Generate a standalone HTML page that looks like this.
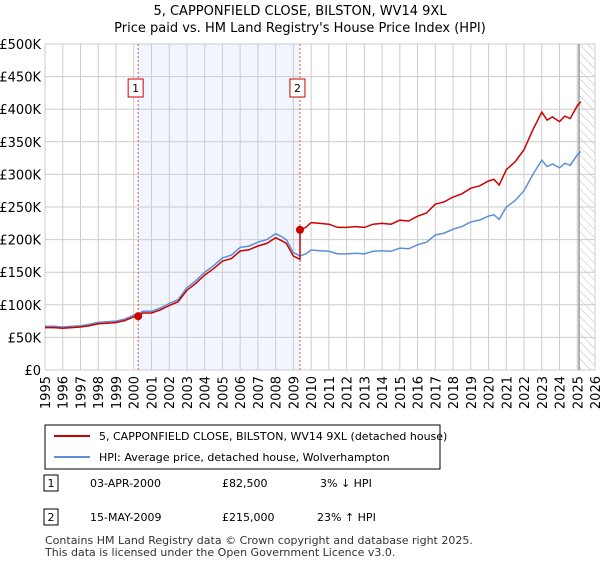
<!DOCTYPE html>
<html><head><meta charset="utf-8"><style>
body{margin:0;background:#fff;font-family:"DejaVu Sans","Liberation Sans",sans-serif;}
svg text{font-family:"DejaVu Sans","Liberation Sans",sans-serif;}
</style></head><body>
<svg id="c" width="600" height="560" viewBox="0 0 600 560" xmlns="http://www.w3.org/2000/svg">
<defs><pattern id="hatch" width="6" height="6" patternUnits="userSpaceOnUse" patternTransform="rotate(-45)"><line x1="0" y1="0" x2="0" y2="6" stroke="#bbb" stroke-width="1"/></pattern></defs>
<text x="300" y="15" text-anchor="middle" font-size="13" fill="#000">5, CAPPONFIELD CLOSE, BILSTON, WV14 9XL</text>
<text x="300" y="32" text-anchor="middle" font-size="13" fill="#000">Price paid vs. HM Land Registry's House Price Index (HPI)</text>
<g id="plot"></g>
<g>
<rect x="45" y="425" width="395" height="44" fill="#fff" stroke="#000" stroke-width="1"/>
<line x1="54" y1="436" x2="90" y2="436" stroke="#cc0000" stroke-width="2"/>
<text x="99" y="440" font-size="11">5, CAPPONFIELD CLOSE, BILSTON, WV14 9XL (detached house)</text>
<line x1="54" y1="457" x2="90" y2="457" stroke="#5b8fd6" stroke-width="2"/>
<text x="99" y="461" font-size="11">HPI: Average price, detached house, Wolverhampton</text>
</g>
<g font-size="11">
<rect x="44" y="475" width="14" height="16" fill="#fff" stroke="#000"/><text x="51" y="487" text-anchor="middle">1</text>
<text x="90" y="487">03-APR-2000</text><text x="222" y="487">£82,500</text><text x="320" y="487">3% ↓ HPI</text>
<rect x="44" y="509" width="14" height="16" fill="#fff" stroke="#000"/><text x="51" y="521" text-anchor="middle">2</text>
<text x="90" y="521">15-MAY-2009</text><text x="222" y="521">£215,000</text><text x="317" y="521">23% ↑ HPI</text>
</g>
<text x="45" y="544" font-size="11" fill="#333">Contains HM Land Registry data © Crown copyright and database right 2025.</text>
<text x="45" y="556" font-size="11" fill="#333">This data is licensed under the Open Government Licence v3.0.</text>
</svg>
<script>
const hpiYears=[1995,1995.5,1996,1996.5,1997,1997.5,1998,1998.5,1999,1999.5,2000,2000.25,2000.5,2001,2001.5,2002,2002.5,2003,2003.5,2004,2004.5,2005,2005.5,2006,2006.5,2007,2007.5,2008,2008.3,2008.6,2009,2009.37,2009.7,2010,2010.5,2011,2011.5,2012,2012.5,2013,2013.5,2014,2014.5,2015,2015.5,2016,2016.5,2017,2017.5,2018,2018.5,2019,2019.5,2020,2020.3,2020.6,2021,2021.5,2022,2022.5,2023,2023.3,2023.6,2024,2024.3,2024.6,2025,2025.2];
const hpiValues=[67,67,66,67,68,70,73,74,75,78,84,85,90,90,95,102,108,126,137,150,160,172,176,188,190,196,200,209,205,200,180,175,178,184,183,182,178,178,179,178,182,183,182,187,186,192,196,207,210,216,220,227,230,236,238,231,250,260,275,300,322,312,316,310,317,314,330,335];
const saleDates=[2000.25,2009.37];
const salePrices=[82.5,215];
const yTicks=[0,50,100,150,200,250,300,350,400,450,500];
const yTickLabels=["£0","£50K","£100K","£150K","£200K","£250K","£300K","£350K","£400K","£450K","£500K"];
const xTicks=[1995,1996,1997,1998,1999,2000,2001,2002,2003,2004,2005,2006,2007,2008,2009,2010,2011,2012,2013,2014,2015,2016,2017,2018,2019,2020,2021,2022,2023,2024,2025,2026];
const NS="http://www.w3.org/2000/svg";
const X0=45,X1=595,Y0=370,Y1=44;
const xs=t=>X0+(t-1995)/(2026-1995)*(X1-X0);
const ys=v=>Y0-v/500*(Y0-Y1);
const g=document.getElementById('plot');
function mk(tag,a){const e=document.createElementNS(NS,tag);for(const k in a)e.setAttribute(k,a[k]);g.appendChild(e);return e;}
function hpiAt(t){for(let i=0;i<hpiYears.length-1;i++){if(t>=hpiYears[i]&&t<=hpiYears[i+1]){const f=(t-hpiYears[i])/(hpiYears[i+1]-hpiYears[i]);return hpiValues[i]+f*(hpiValues[i+1]-hpiValues[i]);}}return hpiValues[hpiValues.length-1];}
let e=mk('rect',{x:xs(saleDates[0]),y:Y1,width:xs(saleDates[1])-xs(saleDates[0]),height:Y0-Y1,fill:'#eef3fd',opacity:0.8});


const hx=xs(2025.1);
e=mk('rect',{x:hx,y:Y1,width:X1-hx,height:Y0-Y1,fill:'url(#hatch)'});


yTicks.forEach((v,i)=>{
 let l=mk('line',{x1:X0,x2:X1,y1:ys(v),y2:ys(v),stroke:'#ccc','stroke-width':1});
 
 
 let t=mk('text',{x:X0-4,y:ys(v)+5,'text-anchor':'end','font-size':13,fill:'#000'});t.textContent=yTickLabels[i];
 
 
});
xTicks.forEach(yr=>{
 let l=mk('line',{x1:xs(yr),x2:xs(yr),y1:Y1,y2:Y0,stroke:'#ccc','stroke-width':1});
 
 
 let t=mk('text',{x:0,y:0,'text-anchor':'end','font-size':13,fill:'#000',transform:`translate(${xs(yr)+5},${Y0+6}) rotate(-90)`});t.textContent=yr;
 
 
});
e=mk('line',{x1:hx,x2:hx,y1:Y1,y2:Y0,stroke:'#999','stroke-width':1.5});


saleDates.forEach((d,i)=>{
 let l=mk('line',{x1:xs(d),x2:xs(d),y1:Y1,y2:Y0,stroke:'#e05050','stroke-width':1,'stroke-dasharray':'2,2'});
 
 
 let r=mk('rect',{x:xs(d)-10,y:79,width:15,height:18,fill:'#fff',stroke:'#cc0000'});
 
 
 let t=mk('text',{x:xs(d)-2.5,y:92,'text-anchor':'middle','font-size':11});t.textContent=String(i+1);
 
 
});
// HPI line
let hp=hpiYears.map((t,i)=>xs(t).toFixed(1)+','+ys(hpiValues[i]).toFixed(1)).join(' ');
e=mk('polyline',{points:hp,fill:'none',stroke:'#5b8fd6','stroke-width':1.5});


// property line derived from sales indexed to HPI
let rp=hpiYears.map((t,i)=>{const k=t<saleDates[1]?0:1;const v=salePrices[k]*hpiValues[i]/hpiAt(saleDates[k]);return xs(t).toFixed(1)+','+ys(v).toFixed(1);});
const bi=hpiYears.indexOf(2009.37);
rp.splice(bi,0,xs(saleDates[1]).toFixed(1)+','+ys(salePrices[0]*hpiAt(saleDates[1])/hpiAt(saleDates[0])).toFixed(1));
e=mk('polyline',{points:rp.join(' '),fill:'none',stroke:'#cc0000','stroke-width':1.5});


saleDates.forEach((d,i)=>{
 let c=mk('circle',{cx:xs(d),cy:ys(salePrices[i]),r:4,fill:'#cc0000'});
 
 
});
</script>
</body></html>
